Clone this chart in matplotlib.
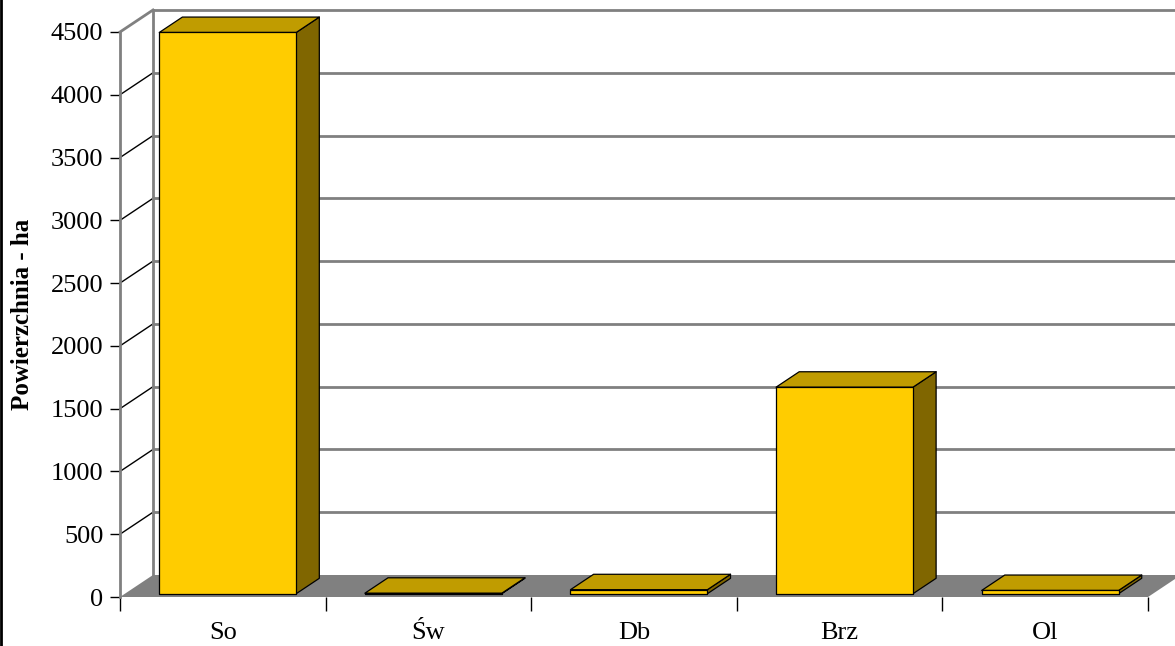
import matplotlib
matplotlib.use("Agg")
import matplotlib.pyplot as plt
from matplotlib.patches import Polygon
from matplotlib.lines import Line2D

categories = ["So", "Św", "Db", "Brz", "Ol"]
values = [4470, 4, 32, 1645, 26]
yticks = [0, 500, 1000, 1500, 2000, 2500, 3000, 3500, 4000, 4500]

plt.rcParams['font.family'] = ['Liberation Serif', 'DejaVu Serif']

fig = plt.figure(figsize=(11.75, 6.46), dpi=100)
W, H = 1175, 646
ax = fig.add_axes([120 / W, (H - 597) / H, 1028 / W, 565 / H])
ax.set_xlim(0, len(categories))
ax.set_ylim(0, 4500)

# depth offset (33 px right, 22 px up) expressed in data units
DX = 33 / 1028 * len(categories)
DY = 22 / 565 * 4500


def proj(x, v, z):
    return (x + z * DX, v + z * DY)


n = len(categories)
wall = '#808080'

# floor
floor = Polygon([proj(0, 0, 0), proj(n, 0, 0), proj(n, 0, 1), proj(0, 0, 1)],
                closed=True, facecolor='#808080', edgecolor='none', clip_on=False, zorder=1)
ax.add_patch(floor)

# gridlines on walls
for v in yticks[1:]:
    col = wall if v == yticks[-1] else 'black'
    ax.plot([proj(0, v, 0)[0], proj(0, v, 1)[0]], [proj(0, v, 0)[1], proj(0, v, 1)[1]],
            color=col, lw=1.0 if v != yticks[-1] else 2.0, clip_on=False, zorder=2)
    ax.plot([proj(0, v, 1)[0], proj(n + 1, v, 1)[0]], [proj(0, v, 1)[1], proj(n + 1, v, 1)[1]],
            color=wall, lw=2.0, clip_on=False, zorder=2)

# back wall left edge
ax.plot([proj(0, 0, 1)[0], proj(0, 4500, 1)[0]], [proj(0, 0, 1)[1], proj(0, 4500, 1)[1]],
        color=wall, lw=2.0, clip_on=False, zorder=2)

# bars
hw = 0.333
z0, z1 = 0.15, 0.85
for i, v in enumerate(values):
    xl, xr = i + 0.5 - hw, i + 0.5 + hw
    top = [proj(xl, v, z0), proj(xr, v, z0), proj(xr, v, z1), proj(xl, v, z1)]
    side = [proj(xr, 0, z0), proj(xr, 0, z1), proj(xr, v, z1), proj(xr, v, z0)]
    front = [proj(xl, 0, z0), proj(xr, 0, z0), proj(xr, v, z0), proj(xl, v, z0)]
    for pts, fc in [(side, '#806600'), (top, '#C09C00'), (front, '#FFCC00')]:
        ax.add_patch(Polygon(pts, closed=True, facecolor=fc, edgecolor='black',
                             lw=0.9, joinstyle='round', clip_on=False, zorder=3))

# axes styling
for s in ['top', 'right', 'bottom']:
    ax.spines[s].set_visible(False)
ax.spines['left'].set_color(wall)
ax.spines['left'].set_linewidth(2.0)
ax.spines['left'].set_zorder(2.5)

ax.set_yticks(yticks)
ax.set_yticklabels([str(t) for t in yticks])
ax.tick_params(axis='y', direction='out', length=7, width=1, color='black', pad=5, labelsize=19)

ax.set_xticks(range(n + 1))
ax.set_xticklabels([''] * (n + 1))
ax.set_xticks([i + 0.5 for i in range(n)], minor=True)
ax.set_xticklabels(categories, minor=True)
ax.tick_params(axis='x', which='major', direction='out', length=10, width=1, color='black')
ax.tick_params(axis='x', which='minor', length=0, pad=18, labelsize=19)
ax.patch.set_alpha(0)

ax.set_ylabel('Powierzchnia - ha', fontsize=18, fontweight='bold', labelpad=12)

fig.add_artist(Line2D([1 / W, 1 / W], [0, 1], transform=fig.transFigure, color='black', lw=2))

fig.savefig('out.png', dpi=100)
